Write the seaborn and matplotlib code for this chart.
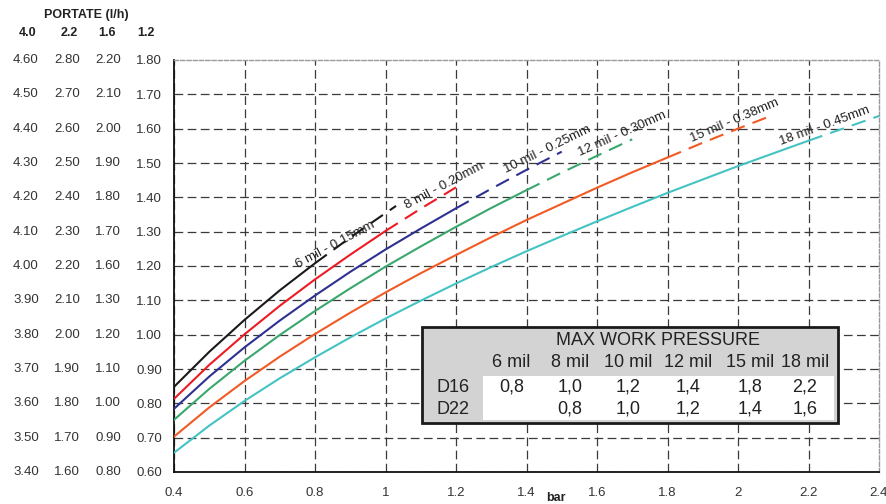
import matplotlib
matplotlib.use("Agg")
import matplotlib.pyplot as plt
import pandas as pd
import seaborn as sns
from matplotlib.patches import Rectangle

# pressure (bar) / flow readings for each dripper size
bar_6 = [0.4, 0.5, 0.6, 0.7, 0.8, 0.9, 1.0, 1.03]
flow_6 = [0.848, 0.950, 1.043, 1.129, 1.208, 1.283, 1.354, 1.375]

bar_8 = [0.4, 0.5, 0.6, 0.7, 0.8, 0.9, 1.0, 1.1, 1.2]
flow_8 = [0.813, 0.912, 1.001, 1.084, 1.161, 1.233, 1.302, 1.367, 1.429]

bar_10 = [0.4, 0.5, 0.6, 0.7, 0.8, 0.9, 1.0, 1.1, 1.2, 1.3, 1.4, 1.5]
flow_10 = [0.784, 0.878, 0.963, 1.041, 1.114, 1.183, 1.248, 1.309, 1.368, 1.425, 1.480, 1.533]

bar_12 = [0.4, 0.5, 0.6, 0.7, 0.8, 0.9, 1.0, 1.1, 1.2, 1.3, 1.4, 1.5, 1.6, 1.7]
flow_12 = [0.752, 0.842, 0.924, 0.999, 1.069, 1.135, 1.198, 1.257, 1.314, 1.369, 1.421,
           1.472, 1.521, 1.569]

bar_15 = [0.4, 0.5, 0.6, 0.7, 0.8, 0.9, 1.0, 1.1, 1.2, 1.3, 1.4, 1.5, 1.6, 1.7, 1.8,
          1.9, 2.0, 2.1]
flow_15 = [0.703, 0.788, 0.865, 0.936, 1.002, 1.064, 1.123, 1.179, 1.232, 1.284, 1.334,
           1.381, 1.428, 1.473, 1.516, 1.559, 1.600, 1.640]

bar_18 = [0.4, 0.5, 0.6, 0.7, 0.8, 0.9, 1.0, 1.1, 1.2, 1.3, 1.4, 1.5, 1.6, 1.7, 1.8,
          1.9, 2.0, 2.1, 2.2, 2.3, 2.4]
flow_18 = [0.656, 0.735, 0.807, 0.873, 0.934, 0.992, 1.047, 1.099, 1.149, 1.197, 1.243,
           1.287, 1.330, 1.372, 1.413, 1.452, 1.491, 1.528, 1.565, 1.601, 1.637]

sizes = ["6 mil", "8 mil", "10 mil", "12 mil", "15 mil", "18 mil"]
curve_labels = ["6 mil - 0.15mm", "8 mil - 0.20mm", "10 mil - 0.25mm",
                "12 mil - 0.30mm", "15 mil - 0.38mm", "18 mil - 0.45mm"]
max_d16 = [0.8, 1.0, 1.2, 1.4, 1.8, 2.2]
d16_text = ["0,8", "1,0", "1,2", "1,4", "1,8", "2,2"]
d22_text = ["", "0,8", "1,0", "1,2", "1,4", "1,6"]

# left-hand flow scales (l/h) for the four dripper flows
scale_heads = ["4.0", "2.2", "1.6", "1.2"]
scale_40 = [3.40, 3.50, 3.60, 3.70, 3.80, 3.90, 4.00, 4.10, 4.20, 4.30, 4.40, 4.50, 4.60]
scale_22 = [1.60, 1.70, 1.80, 1.90, 2.00, 2.10, 2.20, 2.30, 2.40, 2.50, 2.60, 2.70, 2.80]
scale_16 = [0.80, 0.90, 1.00, 1.10, 1.20, 1.30, 1.60, 1.70, 1.80, 1.90, 2.00, 2.10, 2.20]
scale_12 = [0.60, 0.70, 0.80, 0.90, 1.00, 1.10, 1.20, 1.30, 1.40, 1.50, 1.60, 1.70, 1.80]
bar_ticks = [0.4, 0.6, 0.8, 1, 1.2, 1.4, 1.6, 1.8, 2, 2.2, 2.4]

colors = ["#1a1a1a", "#ed1c24", "#2e3192", "#3aa76d", "#f15a24", "#45c3c3"]
label_pos = [(0.857, 1.262, 28), (1.168, 1.435, 28), (1.458, 1.538, 26),
             (1.672, 1.584, 24), (1.990, 1.622, 23), (2.246, 1.608, 20)]

sns.set_style("white")
plt.rcParams["font.family"] = ["Liberation Sans", "DejaVu Sans"]

fig = plt.figure(figsize=(8.86, 5.04), dpi=100)
ax = fig.add_axes([174 / 886, 32 / 504, 705 / 886, 412 / 504])

series = [(bar_6, flow_6), (bar_8, flow_8), (bar_10, flow_10),
          (bar_12, flow_12), (bar_15, flow_15), (bar_18, flow_18)]

for (bars, flows), name, limit, col in zip(series, sizes, max_d16, colors):
    df = pd.DataFrame({"bar": bars, "flow": flows})
    solid = df[df["bar"] <= limit + 1e-9]
    dashed = df[df["bar"] >= limit - 1e-9]
    sns.lineplot(data=solid, x="bar", y="flow", color=col, lw=1.5,
                 estimator=None, sort=False, ax=ax, zorder=3)
    sns.lineplot(data=dashed, x="bar", y="flow", color=col, lw=1.5,
                 estimator=None, sort=False, ax=ax, zorder=3,
                 linestyle=(0, (7, 4)))

for text, (x, y, rot) in zip(curve_labels, label_pos):
    ax.text(x, y, text, rotation=rot, rotation_mode="anchor", ha="center",
            va="center", fontsize=9.5, color="#222222", zorder=4)

ax.set_xlim(0.4, 2.4)
ax.set_ylim(0.6, 1.8)
ax.set_xticks(bar_ticks)
ax.set_xticklabels([f"{t:g}" for t in bar_ticks])
ax.set_yticks(scale_12)
ax.set_yticklabels([f"{v:.2f}" for v in scale_12])
ax.tick_params(axis="both", direction="inout", length=7, width=1, color="#111111",
               labelsize=9.5, labelcolor="#333333")
ax.tick_params(axis="y", pad=5)
ax.tick_params(axis="x", pad=7)

ax.grid(True, color="#3a3a3a", lw=0.9, linestyle=(0, (7, 3.5)))
ax.set_axisbelow(True)
ax.yaxis.get_major_ticks()[-1].gridline.set_visible(False)
ax.xaxis.get_major_ticks()[-1].gridline.set_visible(False)

for side in ["left", "bottom"]:
    ax.spines[side].set_color("#111111")
    ax.spines[side].set_linewidth(1.3)
for side in ["top", "right"]:
    ax.spines[side].set_color("#9a9a9a")
    ax.spines[side].set_linewidth(1.0)
    ax.spines[side].set_linestyle((0, (3, 1.5)))

ax.set_xlabel("bar", fontsize=9, fontweight="bold", color="#222222")
ax.set_ylabel("")
ax.xaxis.set_label_coords((556 - 174) / 705, -0.062)
ax.xaxis.label.set_va("center")

# extra flow scales on the left
ytrans = ax.get_yaxis_transform()
for xf, vals in zip([-0.2099, -0.1518, -0.0936], [scale_40, scale_22, scale_16]):
    for yv, v in zip(scale_12, vals):
        ax.text(xf, yv, f"{v:.2f}", transform=ytrans, ha="center", va="center",
                fontsize=9.5, color="#333333", clip_on=False)

for xf, head in zip([-0.2071, -0.1489, -0.0950, -0.0397], scale_heads):
    ax.text(xf, 1.0655, head, transform=ax.transAxes, ha="center", va="center",
            fontsize=9, fontweight="bold", color="#222222")
ax.text(-0.1248, 1.1092, "PORTATE (l/h)", transform=ax.transAxes, ha="center",
        va="center", fontsize=9, fontweight="bold", color="#222222")

# max work pressure table
ax.add_patch(Rectangle((0.3518, 0.1189), 0.59, 0.233, transform=ax.transAxes,
                       facecolor="#d3d3d3", edgecolor="#1a1a1a", lw=2, zorder=5))
ax.add_patch(Rectangle((0.4383, 0.1262), 0.4979, 0.1068, transform=ax.transAxes,
                       facecolor="white", edgecolor="none", zorder=5))
ax.text(0.6865, 0.318, "MAX WORK PRESSURE", transform=ax.transAxes, ha="center",
        va="center", fontsize=13, color="#222222", zorder=6)
col_x = [0.4787, 0.5617, 0.6440, 0.7290, 0.8170, 0.8950]
for cx, s, a, b in zip(col_x, sizes, d16_text, d22_text):
    ax.text(cx, 0.2646, s, transform=ax.transAxes, ha="center", va="center",
            fontsize=13, color="#222222", zorder=6)
    ax.text(cx, 0.2063, a, transform=ax.transAxes, ha="center", va="center",
            fontsize=13, color="#222222", zorder=6)
    ax.text(cx, 0.1517, b, transform=ax.transAxes, ha="center", va="center",
            fontsize=13, color="#222222", zorder=6)
ax.text(0.3957, 0.2063, "D16", transform=ax.transAxes, ha="center", va="center",
        fontsize=13, color="#222222", zorder=6)
ax.text(0.3957, 0.1517, "D22", transform=ax.transAxes, ha="center", va="center",
        fontsize=13, color="#222222", zorder=6)

fig.savefig("out.png", dpi=100)
